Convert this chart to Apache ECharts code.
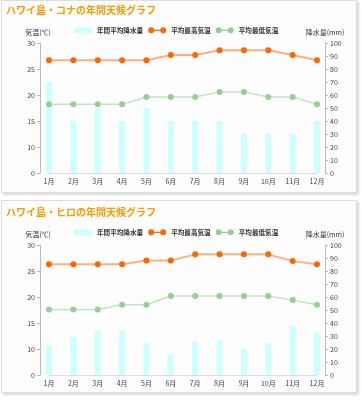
<!DOCTYPE html>
<html><head><meta charset="utf-8">
<script src="https://cdn.jsdelivr.net/npm/echarts@6/dist/echarts.min.js"></script>
<style>
html,body{margin:0;padding:0;background:#fff;}
.panel{position:absolute;left:1px;width:354px;height:191px;border:1px solid #ddd;background:#fdfdfd;box-shadow:2px 2px 2px rgba(0,0,0,0.15);}
#c{position:absolute;left:0;top:0;width:362px;height:400px;}
</style></head>
<body>
<div class="panel" style="top:0px"></div>
<div class="panel" style="top:200px"></div>
<div id="c"></div>
<script>
const months = ['1月','2月','3月','4月','5月','6月','7月','8月','9月','10月','11月','12月'];
const titles = ['ハワイ島・コナの年間天候グラフ','ハワイ島・ヒロの年間天候グラフ'];
const seriesNames = ['年間平均降水量','平均最高気温','平均最低気温'];
const tempTicks = ['0','10','15','20','25','30'];
const konaRain = [70, 40, 50, 40, 50, 40, 40, 40, 30, 30, 30, 40];
const konaMax  = [26.7,26.7,26.7,26.7,26.7,27.7,27.7,28.6,28.6,28.6,27.7,26.7];
const konaMin  = [18.2,18.2,18.2,18.2,19.6,19.6,19.6,20.6,20.6,19.6,19.6,18.2];
const hiloRain = [22.6, 28.8, 34.4, 34.4, 24.6, 15.9, 25.4, 26.7, 20, 24.6, 37.7, 32.6];
const hiloMax  = [26.3,26.3,26.3,26.3,27.0,27.0,28.2,28.2,28.2,28.2,26.9,26.3];
const hiloMin  = [17.6,17.6,17.6,18.5,18.5,20.2,20.2,20.2,20.2,20.2,19.4,18.5];

const FONT = '"Noto Sans CJK JP", "Liberation Sans", sans-serif';
const lineIcon = 'path://M0,3A3,3,0,1,1,6,3A3,3,0,1,1,0,3Z M6,2.4L12,2.4L12,3.6L6,3.6Z M12,3A3,3,0,1,1,18,3A3,3,0,1,1,12,3Z';
const gridTops = [43, 245];
const datasets = [[konaRain, konaMax, konaMin], [hiloRain, hiloMax, hiloMin]];

const option = {
  animation: false,
  textStyle: {fontFamily: FONT},
  title: [], legend: [], grid: [], xAxis: [], yAxis: [], series: []
};
const axisLblStyle = {fontSize: 7, color: '#444', fontFamily: FONT};
gridTops.forEach((gt, i) => {
  option.title.push({text: titles[i], left: 6, top: gt - 38, padding: 0,
    textStyle: {fontSize: 10, fontWeight: 'bold', color: '#ff9900', fontFamily: FONT}});
  option.legend.push({
    left: 74, top: gt - 16, padding: 0, itemWidth: 18, itemHeight: 6, itemGap: 5,
    textStyle: {fontSize: 6.6, color: '#333', fontFamily: FONT, fontWeight: 'bold'},
    data: [
      {name: seriesNames[0] + (i ? ' ' : ''), icon: 'rect'},
      {name: seriesNames[1] + (i ? ' ' : ''), icon: lineIcon},
      {name: seriesNames[2] + (i ? ' ' : ''), icon: lineIcon}
    ],
    formatter: n => n.trim()
  });
  option.grid.push({left: 49, right: 45, top: gt, height: 130});
  option.xAxis.push({
    type: 'category', gridIndex: i, data: months, boundaryGap: false,
    axisLine: {lineStyle: {color: '#ddd'}}, axisTick: {show: false},
    axisLabel: Object.assign({margin: 5, interval: 0}, axisLblStyle)
  });
  option.yAxis.push({
    type: 'value', gridIndex: i, min: 5, max: 30, interval: 5, position: 'left', offset: 9,
    name: '気温(℃)', nameLocation: 'end', nameGap: 7,
    nameTextStyle: {fontSize: 7, color: '#333', fontFamily: FONT, padding: [0, 4, 0, 0]},
    axisLine: {show: true, lineStyle: {color: '#bbb'}},
    axisTick: {show: true, length: 3, lineStyle: {color: '#bbb'}},
    splitLine: {show: false},
    axisLabel: Object.assign({margin: 5, formatter: v => v === 5 ? tempTicks[0] : String(v)}, axisLblStyle)
  });
  option.yAxis.push({
    type: 'value', gridIndex: i, min: 0, max: 100, interval: 10, position: 'right', offset: 8,
    name: '降水量(mm)', nameLocation: 'end', nameGap: 7,
    nameTextStyle: {fontSize: 7, color: '#333', fontFamily: FONT},
    axisLine: {show: true, lineStyle: {color: '#bbb'}},
    axisTick: {show: true, length: 3, lineStyle: {color: '#bbb'}},
    splitLine: {show: false},
    axisLabel: Object.assign({margin: 5}, axisLblStyle)
  });
  const d = datasets[i];
  const sfx = i ? ' ' : '';
  option.series.push({
    type: 'bar', name: seriesNames[0] + sfx, xAxisIndex: i, yAxisIndex: i * 2 + 1,
    data: d[0], barWidth: 6, clip: false, itemStyle: {color: '#ccffff'}
  });
  option.series.push({
    type: 'line', name: seriesNames[1] + sfx, xAxisIndex: i, yAxisIndex: i * 2,
    data: d[1], clip: false, symbol: 'circle', symbolSize: 6,
    lineStyle: {color: '#ffb080', width: 2}, itemStyle: {color: '#ff6600'}
  });
  option.series.push({
    type: 'line', name: seriesNames[2] + sfx, xAxisIndex: i, yAxisIndex: i * 2,
    data: d[2], clip: false, symbol: 'circle', symbolSize: 6,
    lineStyle: {color: '#c3e3c3', width: 1.5}, itemStyle: {color: '#99cc99'}
  });
});
const chart = echarts.init(document.getElementById('c'), null, {renderer: 'canvas'});
chart.setOption(option);
</script>
</body></html>
